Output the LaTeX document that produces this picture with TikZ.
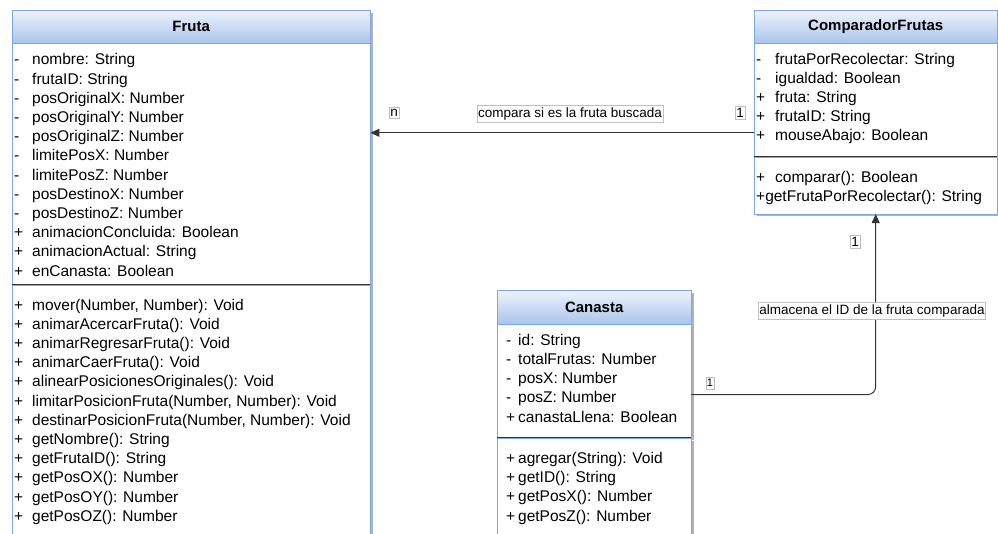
\documentclass[tikz,border=0pt]{standalone}
\usepackage{fontspec}
\setmainfont{Liberation Sans}
\usepackage{xcolor}
\usetikzlibrary{arrows.meta,shadows}

\definecolor{headtop}{HTML}{EEF3FC}
\definecolor{headbot}{HTML}{A9C4EB}
\definecolor{boxline}{HTML}{7EA6E0}
\definecolor{sepline}{HTML}{333333}

\newlength{\pfx}
\newcommand{\pv}{\makebox[\pfx][l]{-}}
\newcommand{\pb}{\makebox[\pfx][l]{+}}

\tikzset{
  classhead/.style={draw=boxline, top color=headtop, bottom color=headbot,
    anchor=north west, inner sep=0pt, font=\fontsize{15}{18}\selectfont\bfseries,
    drop shadow={shadow xshift=2.5pt, shadow yshift=-2.5pt, fill=black!30, opacity=1}},
  compart/.style={draw=boxline, fill=white, anchor=north west, inner sep=0pt,
    drop shadow={shadow xshift=2.5pt, shadow yshift=-2.5pt, fill=black!30, opacity=1}},
  % base of a multi-line node = baseline of its last line
  members/.style={anchor=base west, align=left, inner sep=0pt,
    font=\fontsize{15.5}{19.2}\selectfont},
  pfx/.code={\global\pfx=#1\relax},
  assoc/.style={draw=sepline, line width=1pt, -{Triangle[length=9pt,width=8pt]}},
  lbl/.style={draw=black!25, fill=white, inner xsep=1pt, inner ysep=2pt, line width=0.5pt,
    font=\fontsize{13.5}{16}\selectfont},
}

\begin{document}
\begin{tikzpicture}[x=1pt, y=-1pt]
\useasboundingbox (0,0) rectangle (998,534);
\clip (0,0) rectangle (998,534);

% Fruta
\node[classhead, minimum width=358pt, minimum height=33pt] (frutaH) at (12,10) {Fruta};
\node[compart, minimum width=358pt, minimum height=241pt] (frutaA) at (frutaH.south west) {};
\node[compart, minimum width=358pt, minimum height=270pt] (frutaM) at (frutaA.south west) {};
\draw[sepline, line width=1pt] (frutaA.south west) -- (frutaA.south east);
\node[members, pfx=18pt] (frutaAt) at (14,276.2) {\pv nombre: String\\ \pv frutaID: String\\
  \pv posOriginalX: Number\\ \pv posOriginalY: Number\\ \pv posOriginalZ: Number\\
  \pv limitePosX: Number\\ \pv limitePosZ: Number\\ \pv posDestinoX: Number\\
  \pv posDestinoZ: Number\\ \pb animacionConcluida: Boolean\\
  \pb animacionActual: String\\ \pb enCanasta: Boolean};
\node[members, pfx=18pt] (frutaMt) at (14,521.2) {\pb mover(Number, Number): Void\\
  \pb animarAcercarFruta(): Void\\ \pb animarRegresarFruta(): Void\\
  \pb animarCaerFruta(): Void\\ \pb alinearPosicionesOriginales(): Void\\
  \pb limitarPosicionFruta(Number, Number): Void\\
  \pb destinarPosicionFruta(Number, Number): Void\\ \pb getNombre(): String\\
  \pb getFrutaID(): String\\ \pb getPosOX(): Number\\ \pb getPosOY(): Number\\
  \pb getPosOZ(): Number};

% ComparadorFrutas
\node[classhead, minimum width=243pt, minimum height=33pt] (cmpH) at (754,10) {ComparadorFrutas};
\node[compart, minimum width=243pt, minimum height=113pt] (cmpA) at (cmpH.south west) {};
\node[compart, minimum width=243pt, minimum height=57pt] (cmpM) at (cmpA.south west) {};
\draw[sepline, line width=1pt] (cmpA.south west) -- (cmpA.south east);
\node[members, pfx=19pt] (cmpAt) at (756,141) {\pv frutaPorRecolectar: String\\
  \pv igualdad: Boolean\\ \pb fruta: String\\ \pb frutaID: String\\
  \pb mouseAbajo: Boolean};
\node[members, pfx=19pt] (cmpMt) at (756,202) {\pb comparar(): Boolean\\
  +getFrutaPorRecolectar(): String};

% Canasta
\node[classhead, minimum width=194pt, minimum height=34pt] (canH) at (497,290) {Canasta};
\node[compart, minimum width=194pt, minimum height=113pt] (canA) at (canH.south west) {};
\node[compart, minimum width=194pt, minimum height=110pt] (canM) at (canA.south west) {};
\draw[sepline, line width=1pt] (canA.south west) -- (canA.south east);
\node[members, pfx=12pt] (canAt) at (506,422) {\pv id: String\\ \pv totalFrutas: Number\\
  \pv posX: Number\\ \pv posZ: Number\\ \pb canastaLlena: Boolean};
\node[members, pfx=12pt] (canMt) at (506,521) {\pb agregar(String): Void\\
  \pb getID(): String\\ \pb getPosX(): Number\\ \pb getPosZ(): Number};

% relaciones
\coordinate (cmpL) at ([yshift=24pt]cmpA.south west);
\coordinate (canR) at ([yshift=-13.5pt]canA.east);
\draw[assoc] (cmpL) -- (cmpL -| frutaA.east);
\draw[assoc, rounded corners=8pt] (canR) -| (cmpM.south);

\node[lbl] (mulN) at (394,113) {n};
\node[lbl] (relCmp) at (570,114) {compara si es la fruta buscada};
\node[lbl] (mulCmp) at (740,113) {1};
\node[lbl, font=\fontsize{11}{13}\selectfont] (mulCan) at (710,383) {1};
\node[lbl] (mulCmpB) at (855,242) {1};
\node[lbl] (relCan) at (872,311) {almacena el ID de la fruta comparada};
\end{tikzpicture}
\end{document}
